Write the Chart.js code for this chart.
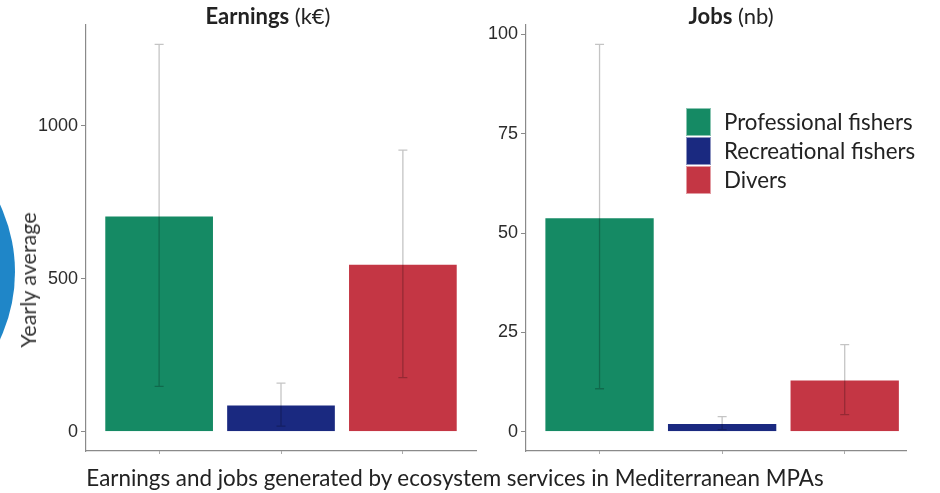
<!DOCTYPE html>
<html>
<head>
<meta charset="utf-8">
<script src="https://cdn.jsdelivr.net/npm/chart.js@4.4.0/dist/chart.umd.min.js"></script>
<style>
  body { margin: 0; background: #fff; width: 940px; height: 493px; overflow: hidden; position: relative; font-family: Lato, sans-serif; color: #222; }
  .panel { position: absolute; top: 0; height: 493px; }
  #left { left: 0; width: 480px; }
  #right { left: 440px; width: 470px; }
  .title { position: absolute; top: 2px; font-size: 22px; transform: translateX(-50%); white-space: nowrap; }
  .title b { font-weight: 700; }
  #blob { position: absolute; left: -303px; top: 113px; width: 318px; height: 318px; border-radius: 50%; background: #1f86c8; }
  #ylabel { position: absolute; left: 28px; top: 280px; transform: translate(-50%, -50%) rotate(-90deg); font-size: 21.5px; white-space: nowrap; color: #333; }
  #legend { position: absolute; left: 686px; top: 107px; }
  .item { display: flex; align-items: center; height: 29px; }
  .swatch { width: 25px; height: 28px; border: 1px solid rgba(255,255,255,0.5); box-sizing: border-box; margin-right: 13px; }
  .item span { font-size: 22.3px; }
  #caption { position: absolute; left: 455px; top: 464px; transform: translateX(-50%); font-size: 22.4px; white-space: nowrap; color: #222; }
</style>
</head>
<body>
<div id="blob"></div>
<div class="panel" id="left"><canvas id="earnChart"></canvas></div>
<div class="panel" id="right"><canvas id="jobsChart"></canvas></div>
<div class="title" style="left:268px"><b>Earnings</b> (k€)</div>
<div class="title" style="left:731px"><b>Jobs</b> (nb)</div>
<div id="ylabel">Yearly average</div>
<div id="legend"></div>
<div id="caption">Earnings and jobs generated by ecosystem services in Mediterranean MPAs</div>
<script>
// groups + colours
const groups = ['Professional fishers', 'Recreational fishers', 'Divers'];
const colors = ['#158A64', '#1A2980', '#C43644'];

// earnings (k€): mean and error bar ends
const earnings = [707, 89, 549];
const earningsLow = [148, 18, 177];
const earningsHigh = [1267, 159, 921];
const earningsTicks = [0, 500, 1000];

// jobs (nb)
const jobs = [54, 2.2, 13.1];
const jobsLow = [10.8, 0.5, 4.3];
const jobsHigh = [97.5, 3.8, 21.9];
const jobsTicks = [0, 25, 50, 75, 100];

const axisGrey = '#8a8a8a';

// simple error bar plugin, drawn on top of the bars
const errorBars = {
    id: 'errorBars',
    afterDatasetsDraw(chart, args, opts) {
        const { ctx, scales: { x, y } } = chart;
        ctx.save();
        ctx.strokeStyle = 'rgba(0,0,0,0.23)';
        ctx.lineWidth = 1.3;
        opts.low.forEach((lo, i) => {
            const px = x.getPixelForValue(i + 1);
            const top = y.getPixelForValue(opts.high[i]);
            const bot = y.getPixelForValue(lo);
            ctx.beginPath();
            ctx.moveTo(px, top); ctx.lineTo(px, bot);
            ctx.moveTo(px - 4.5, top); ctx.lineTo(px + 4.5, top);
            ctx.moveTo(px - 4.5, bot); ctx.lineTo(px + 4.5, bot);
            ctx.stroke();
        });
        ctx.restore();
    }
};

function makeChart(id, values, low, high, ticks, xMax) {
    const top = Math.max(...high);
    const pad = top * 0.05; // ggplot-style expansion

    return new Chart(document.getElementById(id), {
        type: 'bar',
        data: {
            datasets: [{
                data: values.map((v, i) => ({ x: i + 1, y: v })),
                backgroundColor: colors,
                borderColor: 'rgba(255,255,255,0.35)',
                borderWidth: 1,
                categoryPercentage: 0.9,
                barPercentage: 1
            }]
        },
        options: {
            responsive: true,
            maintainAspectRatio: false,
            animation: false,
            layout: { padding: { top: 25, right: 4, left: 0, bottom: 0 } },
            scales: {
                x: {
                    type: 'linear',
                    offset: false,
                    min: 0.4,
                    max: xMax,
                    afterBuildTicks: s => { s.ticks = [1, 2, 3].map(v => ({ value: v })); },
                    afterFit: s => { s.height = 42; },
                    ticks: { callback: () => '', padding: 0 },
                    grid: { offset: false, drawOnChartArea: false, tickLength: 3, color: '#aaa' },
                    border: { color: axisGrey, width: 1.2 }
                },
                y: {
                    min: -pad,
                    max: top + pad,
                    afterBuildTicks: s => { s.ticks = ticks.map(v => ({ value: v })); },
                    afterFit: s => { s.width = 86; },
                    ticks: {
                        color: '#2b2b2b',
                        padding: 3,
                        callback: v => String(v),
                        font: { family: "'Liberation Sans', Arial, sans-serif", size: 18 }
                    },
                    grid: { drawOnChartArea: false, tickLength: 5, color: axisGrey },
                    border: { color: axisGrey, width: 1.2 }
                }
            },
            plugins: {
                legend: { display: false },
                tooltip: { enabled: false },
                errorBars: { low: low, high: high }
            }
        },
        plugins: [errorBars]
    });
}

makeChart('earnChart', earnings, earningsLow, earningsHigh, earningsTicks, 3.6);
makeChart('jobsChart', jobs, jobsLow, jobsHigh, jobsTicks, 3.5);

// legend
const legend = document.getElementById('legend');
groups.forEach((g, i) => {
    const div = document.createElement('div');
    div.className = 'item';
    div.innerHTML = `<div class="swatch" style="background:${colors[i]}"></div><span>${g}</span>`;
    legend.appendChild(div);
});
</script>
</body>
</html>
